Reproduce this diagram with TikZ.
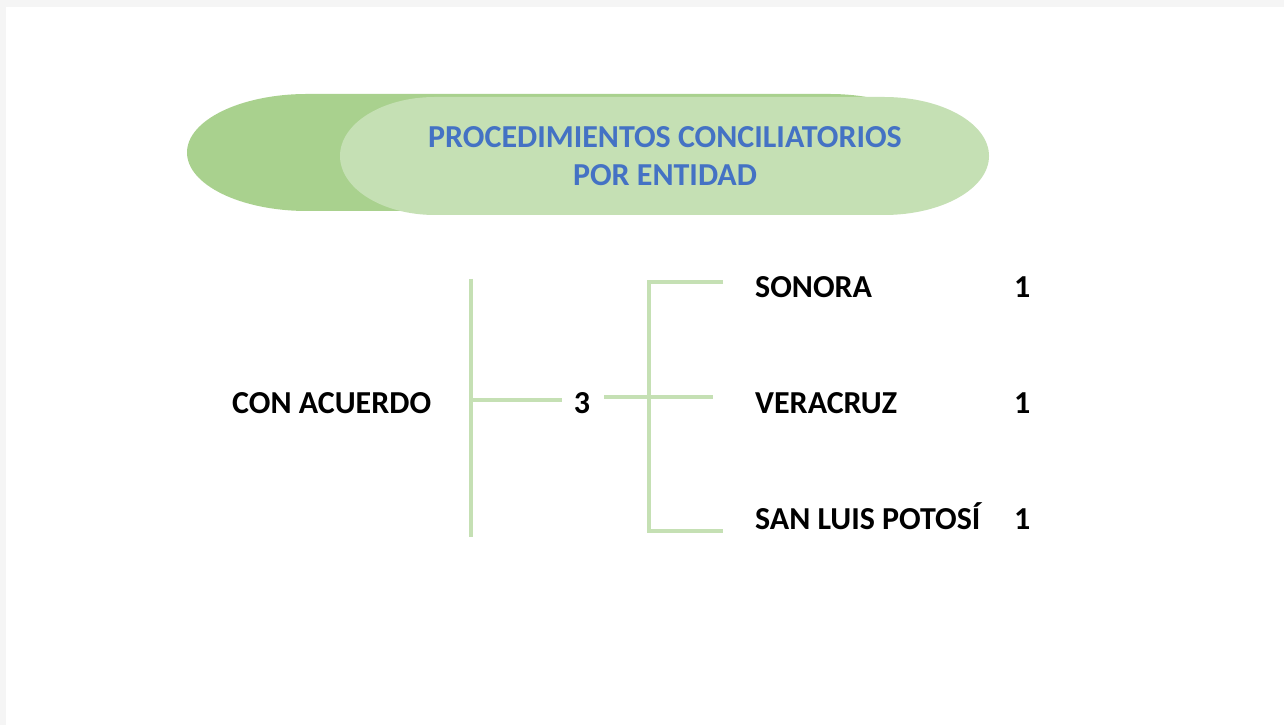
\documentclass[tikz,border=0pt]{standalone}
\usepackage{fontspec}
\setmainfont{Carlito}
\definecolor{pagegray}{HTML}{F5F5F5}
\definecolor{darkgreen}{HTML}{A9D18E}
\definecolor{lightgreen}{HTML}{C5E0B4}
\definecolor{titleblue}{HTML}{4472C4}
\tikzset{
  lbl/.style={font=\fontsize{32}{38.5}\selectfont\bfseries, inner sep=0pt, anchor=base west},
  brace/.style={draw=lightgreen, line width=4pt}
}
\begin{document}
\begin{tikzpicture}[x=1pt,y=1pt]
\useasboundingbox (0,0) rectangle (1284,725);
\fill[pagegray] (0,0) rectangle (1284,725);
\fill[white] (6,0) rectangle (1284,718);
% title shapes
\fill[darkgreen] (307,631) -- (830,631) arc[start angle=90,end angle=-90,x radius=115,y radius=58.5] -- (307,514) arc[start angle=270,end angle=90,x radius=120,y radius=58.5] -- cycle;
\fill[lightgreen] (435,628) -- (884,628) arc[start angle=90,end angle=-90,x radius=105,y radius=59] -- (435,510) arc[start angle=270,end angle=90,x radius=95,y radius=59] -- cycle;
\node[font=\fontsize{32}{38.5}\selectfont\bfseries, text=titleblue, align=center] (title) at (665,569) {PROCEDIMIENTOS CONCILIATORIOS\\POR ENTIDAD};
% labels
\node[lbl] (con) at (232,311.6) {CON ACUERDO};
\node[font=\fontsize{32}{38.5}\selectfont\bfseries, inner sep=0pt] (three) at (582,322) {3};
\node[lbl] (son) at (755,427.6) {SONORA};
\node[lbl] (ver) at (755,311.6) {VERACRUZ};
\node[lbl] (slp) at (755,195.6) {SAN LUIS POTOSÍ};
\node[lbl] (n1) at (1014,427.6) {1};
\node[lbl] (n2) at (1014,311.6) {1};
\node[lbl] (n3) at (1014,195.6) {1};
% brackets
\coordinate (lt) at (471,446);
\coordinate (lb) at (471,188);
\coordinate (lm) at (471,325);
\coordinate (rt) at (649,443);
\coordinate (rb) at (649,194);
\coordinate (rmin) at (604,328);
\coordinate (rmout) at (713,328);
\coordinate (rtout) at (723,443);
\coordinate (rbout) at (723,194);
\draw[brace] (lt) -- (lb);
\draw[brace] (lm) -- ([xshift=-12pt]three.west |- lm);
\draw[brace] (rmin) -- (rmout);
\draw[brace] (rtout) -- (rt) -- (rb) -- (rbout);
\end{tikzpicture}
\end{document}
